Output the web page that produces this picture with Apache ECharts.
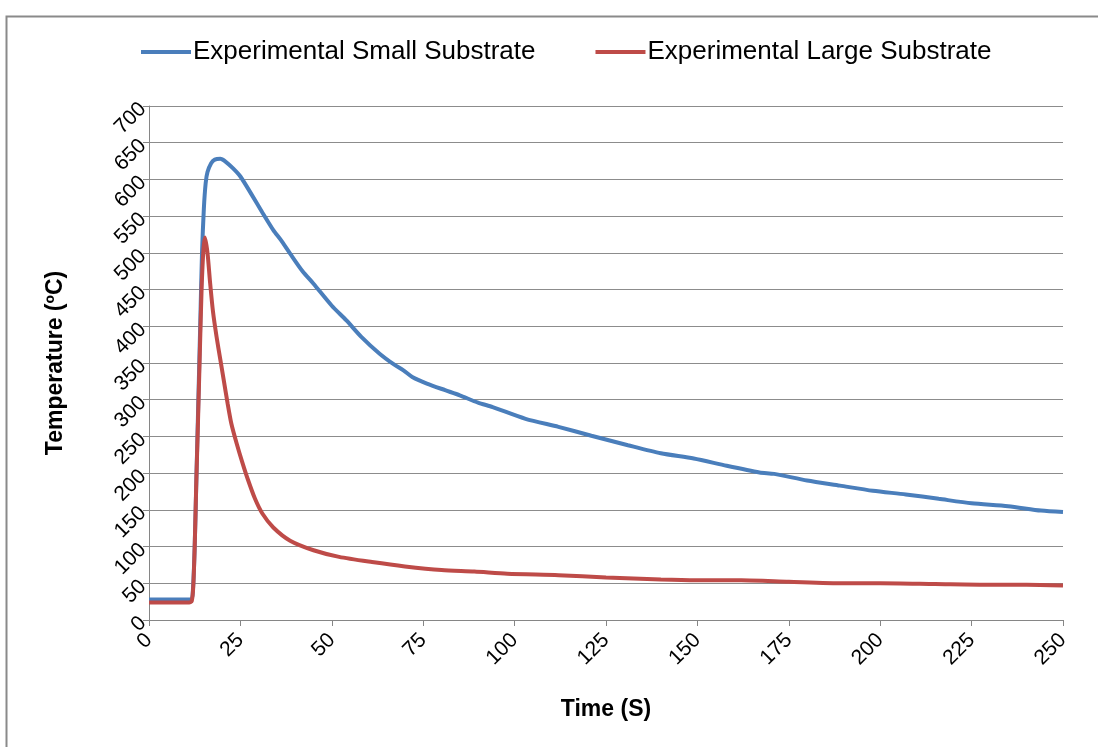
<!DOCTYPE html>
<html><head><meta charset="utf-8">
<script src="https://cdn.jsdelivr.net/npm/echarts@6/dist/echarts.min.js"></script>
<style>html,body{margin:0;padding:0;background:#fff}#c{width:1098px;height:747px}</style>
</head><body><div id="c"></div>
<script>
var smallTime = [0, 5, 11.5, 12, 12.5, 13, 13.5, 14, 14.5, 15, 15.5, 16, 17, 18, 19.5, 21, 23, 25, 28, 31, 34, 36, 38.6, 42, 45, 50, 54, 58, 63, 67, 69.6, 72, 76, 81, 85, 90, 94, 103, 112, 121, 131, 140, 149, 158, 167, 171, 180, 189, 198, 207, 216, 225, 235, 244, 250];
var smallTemp = [28, 28, 28, 40, 100, 200, 300, 400, 500, 560, 595, 610, 622, 627, 628, 624, 615, 604, 580, 555, 531, 518, 499, 475, 458, 428, 408, 386, 363, 348, 340, 331, 322, 313, 306, 296, 290, 274, 263, 251, 238, 227, 220, 210, 201, 199, 190, 183, 176, 171, 165, 159, 155, 149, 147];
var largeTime = [0, 5, 11, 11.7, 12.1, 12.5, 12.9, 13.4, 13.9, 14.4, 14.9, 15.3, 16, 16.7, 17.5, 18.5, 19.5, 20.5, 21.5, 22.5, 24, 25.5, 27, 29, 31, 34, 38.6, 45, 52, 61, 70, 80, 89, 98, 112, 125, 140, 150, 162, 175, 190, 200, 215, 230, 240, 250];
var largeTemp = [24, 24, 24, 26, 45, 100, 181, 270, 363, 453, 505, 521, 500, 460, 420, 385, 355, 325, 295, 268, 240, 215, 192, 165, 145, 126, 108, 95, 86, 79, 73, 68, 66, 63, 61, 58, 55, 54, 54, 52, 50, 50, 49, 48, 48, 47];
var seriesNames = ['Experimental Small Substrate', 'Experimental Large Substrate'];

function pairs(t, v) { return t.map(function (x, i) { return [x, v[i]]; }); }

var chart = echarts.init(document.getElementById('c'), null, {renderer: 'canvas'});
var font = 'Arial, "Liberation Sans", sans-serif';
chart.setOption({
  animation: false,
  backgroundColor: '#fff',
  graphic: [{
    type: 'rect', left: 4, top: 14, silent: true,
    shape: {x: 0, y: 0, width: 1200, height: 800},
    style: {fill: 'none', stroke: '#8a8a8a', lineWidth: 2}
  }],
  legend: {
    top: 34, left: 136, itemGap: 60, itemWidth: 50, itemHeight: 4,
    icon: 'rect',
    textStyle: {fontFamily: font, fontSize: 26, color: '#000', padding: [0, 0, 0, -3]},
    data: seriesNames
  },
  grid: {left: 149, right: 35, top: 106, bottom: 127, containLabel: false},
  xAxis: {
    type: 'value', min: 0, max: 250, interval: 25,
    name: 'Time (S)', nameLocation: 'middle', nameGap: 78,
    nameTextStyle: {fontFamily: font, fontSize: 23, fontWeight: 'bold', color: '#000'},
    axisLine: {show: true, lineStyle: {color: '#868686', width: 1}},
    axisTick: {show: true, length: 6, lineStyle: {color: '#868686'}},
    axisLabel: {rotate: 45, fontFamily: font, fontSize: 21, color: '#000', margin: 17},
    splitLine: {show: false}
  },
  yAxis: {
    type: 'value', min: 0, max: 700, interval: 50,
    name: 'Temperature (ºC)', nameLocation: 'middle', nameGap: 82, nameRotate: 90,
    nameTextStyle: {fontFamily: font, fontSize: 23, fontWeight: 'bold', color: '#000'},
    axisLine: {show: true, lineStyle: {color: '#868686', width: 1}},
    axisTick: {show: true, length: 6, lineStyle: {color: '#868686'}},
    axisLabel: {rotate: 45, fontFamily: font, fontSize: 21, color: '#000', margin: 6},
    splitLine: {show: true, lineStyle: {color: '#8c8c8c', width: 1}}
  },
  series: [
    {name: seriesNames[0], type: 'line', data: pairs(smallTime, smallTemp), showSymbol: false, smooth: 0.25,
     lineStyle: {color: '#4a7ebb', width: 4}, itemStyle: {color: '#4a7ebb'}},
    {name: seriesNames[1], type: 'line', data: pairs(largeTime, largeTemp), showSymbol: false, smooth: 0.25,
     lineStyle: {color: '#be4b48', width: 4}, itemStyle: {color: '#be4b48'}}
  ]
});
</script></body></html>
